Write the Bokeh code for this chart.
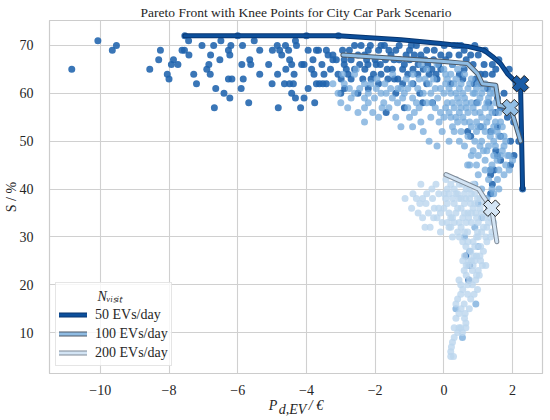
import numpy as np
from bokeh.plotting import figure
from bokeh.models import Range1d, FixedTicker, Legend, LegendItem
from bokeh.embed import file_html
from bokeh.resources import INLINE

FONT = "Liberation Serif"
NB = "\u00a0"

# ---------------- data ----------------
title_text = "Pareto Front with Knee Points for City Car Park Scenario"
series_labels = ["50 EVs/day", "100 EVs/day", "200 EVs/day"]
legend_title = "N\u1d65\u1d62\u209b\u1d62\u209c"
y_label = "S / %"
x_label_main = "P"
x_label_sub = "d,EV"
x_label_unit = "/ \u20ac"
x_ticks = [-10, -8, -6, -4, -2, 0, 2]
y_ticks = [10, 20, 30, 40, 50, 60, 70]

s50 = [
    (-10.83, 65), (-10.07, 71), (-9.65, 69), (-9.53, 70), (-8.56, 65), (-8.25, 69), (-8.05, 64),
    (-8.00, 63), (-7.93, 66), (-7.87, 67), (-7.74, 66), (-7.62, 69), (-7.55, 69), (-7.54, 72),
    (-7.43, 71), (-7.42, 68), (-7.28, 64), (-7.04, 70), (-6.90, 65), (-6.84, 66), (-6.80, 64),
    (-6.79, 68), (-6.70, 70), (-6.68, 57), (-6.64, 61), (-6.49, 71), (-6.52, 67), (-6.40, 60),
    (-6.27, 69), (-6.27, 63), (-6.23, 68), (-6.23, 59), (-6.20, 70), (-6.17, 63), (-6.00, 72),
    (-5.88, 66), (-5.86, 70), (-5.84, 63), (-5.68, 58), (-5.65, 67), (-5.62, 66), (-5.52, 71),
    (-5.36, 69), (-5.36, 64), (-4.99, 69), (-4.85, 70), (-4.84, 64), (-4.82, 57), (-4.78, 69),
    (-4.72, 68), (-4.64, 62), (-4.61, 70), (-4.52, 69), (-4.49, 67), (-4.49, 62), (-4.43, 66),
    (-4.43, 60), (-4.38, 62), (-4.36, 64), (-4.32, 71), (-4.32, 59), (-4.29, 70), (-4.17, 57),
    (-4.14, 66), (-4.07, 66), (-4.07, 59), (-4.00, 72), (-3.95, 69), (-3.95, 61), (-3.81, 67),
    (-3.78, 64), (-3.76, 58), (-3.71, 69), (-3.71, 62), (-3.65, 69), (-3.62, 62), (-3.52, 62),
    (-3.49, 64), (-3.42, 69), (-3.42, 62), (-3.37, 68), (-3.23, 68), (-3.23, 67), (-3.13, 67),
    (-3.07, 72), (-3.08, 64), (-2.99, 63), (-2.90, 67), (-2.90, 66), (-2.89, 61), (-2.84, 65),
    (-2.79, 64), (-2.70, 67), (-2.70, 63), (-2.60, 70), (-2.60, 65), (-2.50, 68), (-2.50, 60),
    (-2.41, 70), (-2.36, 63), (-2.31, 68), (-2.30, 65), (-2.21, 66), (-2.20, 69), (-2.14, 70),
    (-2.12, 63), (-2.00, 67), (-1.97, 66), (-1.90, 69), (-1.90, 62), (-1.83, 70), (-1.83, 64),
    (-1.73, 70), (-1.70, 67), (-1.68, 56), (-1.63, 63), (-1.60, 69), (-1.54, 68), (-1.50, 65),
    (-1.44, 63), (-1.34, 63), (-1.30, 70), (-1.30, 67), (-1.20, 65), (-1.20, 62), (-1.15, 66),
    (-1.15, 57), (-1.05, 64), (-1.00, 69), (-1.00, 67), (-0.90, 65), (-0.90, 62), (-0.86, 68),
    (-0.80, 70), (-0.76, 64), (-0.70, 67), (-0.67, 68), (-0.62, 58), (-0.60, 65), (-0.50, 69),
    (-0.50, 62), (-0.47, 66), (-0.43, 64), (-0.33, 58), (-0.30, 67), (-0.28, 69), (-0.23, 64),
    (-0.20, 63), (-0.09, 68), (-0.09, 65), (0.01, 70), (0.15, 68), (0.30, 70), (0.40, 70),
    (0.44, 68), (0.59, 69), (0.59, 65), (0.78, 68), (0.88, 62), (0.93, 63), (1.07, 64),
    (1.07, 62), (1.07, 53), (1.17, 66), (1.20, 64), (1.27, 61), (1.36, 52), (1.41, 66),
    (1.41, 64), (1.51, 65), (1.56, 59), (1.56, 53), (1.65, 57), (1.65, 51), (1.85, 55),
    (1.94, 50), (2.03, 54), (2.18, 50), (0.69, 52), (0.78, 51), (1.51, 48), (1.56, 47),
    (1.46, 44), (1.36, 43), (2.04, 47), (1.94, 45), (1.36, 44), (1.65, 46), (1.41, 41),
    (1.36, 39), (2.29, 40), (0.64, 26), (0.75, 24), (0.72, 21), (0.50, 70), (0.90, 70),
    (1.20, 69), (1.60, 67), (1.90, 65), (2.10, 62),
    (-2.95, 69), (-2.75, 69), (-2.45, 66), (-2.25, 67), (-2.05, 64), (-1.85, 66), (-1.65, 65),
    (-1.45, 67), (-1.40, 69), (-1.10, 68), (-0.95, 70), (-0.75, 66), (-0.55, 67), (-0.35, 65),
    (-0.15, 66), (0.05, 67), (0.25, 66), (0.45, 64), (0.65, 67), (0.85, 66), (1.00, 68),
    (0.20, 62), (0.55, 63), (-0.70, 60), (-1.40, 60), (-2.20, 61), (-3.30, 65), (-3.55, 66),
    (-3.85, 65), (-5.10, 66), (-5.00, 62), (-5.90, 61), (-7.20, 62), (-8.30, 67), (-4.60, 65),
    (-3.00, 60), (1.30, 58), (1.75, 60), (1.50, 56), (0.95, 58),
]

s100 = [
    (-3.23, 62), (-3.08, 60), (-2.90, 62), (-2.75, 61), (-2.60, 60), (-3.00, 58), (-2.80, 57),
    (-2.55, 65), (-2.60, 64), (-2.50, 56), (-2.31, 62), (-2.31, 59), (-2.31, 57), (-2.31, 54),
    (-2.12, 62), (-2.07, 56), (-2.02, 59), (-1.97, 61), (-1.90, 55), (-1.83, 60), (-1.72, 62),
    (-1.68, 60), (-1.60, 57), (-1.50, 59), (-1.49, 64), (-1.40, 55), (-1.34, 61), (-1.25, 61),
    (-1.25, 53), (-1.20, 59), (-1.10, 63), (-1.05, 61), (-1.05, 57), (-0.91, 59), (-0.91, 53),
    (-0.90, 64), (-0.86, 56), (-0.76, 61), (-0.72, 63), (-0.72, 57), (-0.67, 66), (-0.67, 54),
    (-0.60, 60), (-0.50, 65), (-0.50, 58), (-0.43, 62), (-0.43, 50), (-0.38, 60), (-0.38, 55),
    (-0.30, 63), (-0.25, 57), (-0.20, 66), (-0.18, 59), (-0.14, 54), (-0.10, 61), (-0.10, 56),
    (0.00, 65), (0.20, 64), (0.40, 65), (0.60, 64), (0.80, 63), (1.00, 62), (1.20, 62), (1.40, 61),
    (0.10, 63), (0.30, 62), (0.50, 62), (0.70, 61), (0.90, 60), (1.10, 60), (1.30, 59), (1.50, 58),
    (0.00, 60), (0.20, 60), (0.40, 59), (0.60, 59), (0.80, 58), (1.00, 58), (1.20, 57), (1.40, 56),
    (1.60, 56), (0.10, 58), (0.30, 57), (0.50, 57), (0.70, 56), (0.90, 56), (1.10, 55), (1.30, 55),
    (1.50, 54), (1.70, 53), (0.00, 55), (0.20, 55), (0.40, 54), (0.60, 54), (0.80, 53), (1.00, 53),
    (1.20, 52), (1.40, 52), (1.60, 51), (1.80, 50), (0.30, 52), (0.50, 52), (0.70, 51), (0.90, 50),
    (1.10, 50), (1.30, 49), (1.50, 49), (1.70, 48), (1.90, 47), (0.15, 50), (0.60, 49), (1.00, 47),
    (1.20, 46), (1.40, 45), (1.60, 44), (1.80, 45), (2.00, 46), (0.75, 45), (1.00, 43), (1.30, 42),
    (1.56, 42), (1.85, 47), (1.10, 40), (1.25, 38), (1.45, 39), (0.69, 45), (0.90, 41), (0.60, 30),
    (0.90, 32), (1.10, 34), (0.75, 27), (1.00, 28), (0.35, 15), (0.93, 16), (0.54, 9),
    (0.25, 66), (0.55, 66), (0.05, 62), (0.35, 60), (0.65, 57), (0.95, 54), (1.25, 58), (1.35, 60),
    (0.45, 56), (0.85, 60), (1.15, 48), (1.45, 50), (1.75, 51), (0.25, 53), (-0.05, 52),
    (-1.80, 57), (-2.20, 58), (-1.00, 55), (-0.60, 52), (-0.20, 49),
    (-2.95, 64), (-2.70, 59), (-2.45, 61), (-2.20, 60), (-1.95, 63), (-1.75, 58), (-1.55, 61),
    (-1.35, 58), (-1.15, 60), (-0.95, 62), (-0.80, 58), (-0.55, 63), (-0.35, 58), (-0.25, 61),
    (0.05, 64), (0.15, 61), (0.35, 63), (0.45, 61), (0.55, 60), (0.75, 62), (0.95, 61), (1.05, 59),
    (1.15, 61), (1.35, 57), (1.45, 60), (0.05, 57), (0.25, 58), (0.45, 58), (0.65, 58), (0.85, 57),
    (1.05, 56), (1.25, 54), (1.45, 53), (1.65, 54), (0.15, 56), (0.35, 55), (0.55, 55), (0.75, 54),
    (0.95, 52), (1.15, 53), (1.35, 51), (1.55, 52), (1.75, 49), (1.65, 47), (1.45, 47), (1.25, 48),
    (1.05, 49), (0.85, 48), (0.45, 50), (1.35, 44), (1.55, 46), (1.75, 43), (1.90, 44), (1.20, 44),
    (0.95, 45), (0.80, 47), (1.40, 40), (1.60, 40), (1.30, 36), (1.00, 37),
]

s200 = [
    (-1.13, 38), (-0.94, 36), (-0.67, 41), (-0.62, 38), (-0.62, 34), (-0.52, 37), (-0.33, 38),
    (-0.28, 36), (-0.23, 41), (-0.80, 38), (-0.75, 35), (-0.45, 35), (-0.40, 32), (-0.15, 39),
    (-0.10, 35), (-0.05, 33), (0.01, 39), (0.06, 42), (0.10, 37), (0.15, 32), (0.20, 34),
    (0.20, 32), (0.25, 34), (0.30, 37), (0.30, 40), (0.35, 35), (0.40, 39), (0.44, 38),
    (0.45, 33), (0.50, 36), (0.55, 41), (0.55, 34), (0.60, 37), (0.64, 38), (0.64, 28),
    (0.69, 31), (0.70, 35), (0.72, 34), (0.75, 40), (0.78, 37), (0.78, 27), (0.80, 33),
    (0.85, 36), (0.87, 26), (0.90, 39), (0.93, 35), (0.95, 30), (0.98, 38), (0.98, 31),
    (1.00, 33), (1.05, 36), (1.07, 28), (1.07, 25), (1.10, 31), (1.17, 34), (1.20, 37),
    (1.22, 30), (1.25, 32), (1.27, 35), (1.30, 33), (1.35, 30), (1.40, 31), (1.45, 33),
    (0.00, 36), (-0.20, 34), (0.10, 40), (0.35, 42), (0.65, 40), (0.85, 41), (0.25, 30),
    (0.45, 30), (0.55, 29), (0.85, 29), (1.15, 27), (0.95, 26), (0.72, 25),
    (0.59, 23), (0.49, 20), (0.40, 17), (0.44, 14), (0.35, 13), (0.49, 11), (0.25, 8),
    (0.20, 6), (0.28, 5), (0.88, 18), (0.83, 20), (0.98, 19), (0.74, 15), (0.62, 14),
    (0.64, 11), (0.44, 21), (0.93, 21), (0.49, 18), (0.69, 18), (0.59, 16), (0.78, 17),
    (0.64, 12), (0.44, 11), (0.40, 10), (0.54, 10), (0.20, 5), (0.83, 23), (1.12, 24),
    (1.22, 24), (1.03, 22), (0.69, 20), (0.70, 24), (0.90, 25), (0.60, 26), (1.00, 23),
    (-0.90, 39), (-0.70, 37), (-0.50, 39), (-0.35, 40), (-0.30, 34), (-0.15, 36), (0.05, 38),
    (0.15, 35), (0.25, 38), (0.40, 36), (0.50, 38), (0.50, 32), (0.60, 35), (0.65, 33),
    (0.75, 38), (0.80, 35), (0.90, 37), (0.95, 34), (1.05, 38), (1.10, 35), (1.15, 32),
    (1.30, 36), (1.35, 34), (1.00, 30), (0.90, 28), (0.70, 29), (0.60, 31), (0.40, 31),
    (0.30, 33), (0.10, 33), (-0.10, 31), (-0.55, 32), (0.35, 39), (0.60, 39), (0.20, 41),
    (0.45, 41), (0.15, 39), (0.80, 39), (1.25, 29), (1.05, 26), (0.80, 25), (0.65, 22),
    (0.55, 19), (0.75, 21), (0.50, 15), (0.60, 13), (0.35, 16), (0.30, 11), (0.30, 9),
    (0.22, 7), (0.95, 22), (0.85, 24), (0.65, 24), (0.55, 25),
]

front50_x = [-7.54, -3.07, -1.25, -0.09, 0.69, 1.17, 1.41, 1.65, 1.85, 2.04, 2.23, 2.29]
front50_y = [72, 72, 71.2, 70.4, 69.8, 69, 67.7, 66.2, 64.1, 62.7, 62, 40]
front100_x = [-2.94, -0.09, 0.69, 0.98, 1.12, 1.51, 1.60, 1.94, 2.23]
front100_y = [68, 66.7, 66.2, 64.1, 62, 61.7, 57.5, 57, 50]
front200_x = [0.06, 1.01, 1.16, 1.39, 1.54]
front200_y = [43, 40, 38.3, 36, 29]

knee_x = [2.23, 1.94, 1.39]
knee_y = [62, 57, 36]

# ---------------- style ----------------
pt_colors = ["#1f63ad", "#74aadb", "#bcd6ee"]
pt_alpha = [0.88, 0.75, 0.8]
line_colors = ["#0c4f9b", "#8fbce3", "#d3e4f4"]
edge_colors = ["#083670", "#4d5966", "#7e8a97"]
knee_fill = ["#1a5ca6", "#92bfe6", "#d4e5f5"]
TXT = "#262626"

p = figure(width=550, height=420,
           x_range=Range1d(-11.478, 2.870), y_range=Range1d(1.458, 75.208),
           output_backend="svg", toolbar_location=None,
           min_border_left=47, min_border_right=8, min_border_top=20, min_border_bottom=46)

p.background_fill_color = "white"
p.border_fill_color = "white"
p.outline_line_color = "#cccccc"
p.outline_line_width = 1.2

# title (native)
p.title.text = title_text
p.title.align = "center"
p.title.text_font = FONT
p.title.text_font_size = "13.5px"
p.title.text_font_style = "normal"
p.title.text_color = TXT
p.title.standoff = 2

for ax in (p.xaxis, p.yaxis):
    ax.axis_line_color = "#cccccc"
    ax.major_tick_line_color = None
    ax.minor_tick_line_color = None
    ax.major_label_text_font = FONT
    ax.major_label_text_font_size = "14px"
    ax.major_label_text_color = TXT
    ax.axis_label_text_font = FONT
    ax.axis_label_text_font_size = "14px"
    ax.axis_label_text_color = TXT

p.xaxis.ticker = FixedTicker(ticks=x_ticks)
p.yaxis.ticker = FixedTicker(ticks=y_ticks)
p.xaxis.major_label_overrides = {t: ("\u2212%d" % -t if t < 0 else "%d" % t) for t in x_ticks}
p.xaxis.major_label_standoff = 5
p.yaxis.major_label_standoff = 10

# y label
p.yaxis.axis_label = y_label
p.yaxis.axis_label_text_font_style = "normal"
p.yaxis.axis_label_standoff = -2

# x label: P with subscript d,EV on a second, slightly lower line
line1 = x_label_main + NB * 8 + NB + x_label_unit
line2 = x_label_sub + NB * 2
p.xaxis.axis_label = line1 + "\n" + line2
p.xaxis.axis_label_text_font_style = "italic"
p.xaxis.axis_label_text_line_height = 0.3
p.xaxis.axis_label_standoff = 0

p.grid.grid_line_color = "#d0d0d0"
p.grid.grid_line_width = 1.1

series = [s50, s100, s200]
for pts, c, a in zip(series, pt_colors, pt_alpha):
    xs = [q[0] for q in pts]
    ys = [q[1] for q in pts]
    p.scatter(xs, ys, size=7, marker="circle", fill_color=c, fill_alpha=a, line_color=None)

fronts = [(front50_x, front50_y), (front100_x, front100_y), (front200_x, front200_y)]
items = []
for (fx, fy), lc, ec, lab in zip(fronts, line_colors, edge_colors, series_labels):
    o = p.line(fx, fy, line_color=ec, line_width=5.0, line_cap="round", line_join="round")
    l = p.line(fx, fy, line_color=lc, line_width=3.0, line_cap="round", line_join="round")
    items.append(LegendItem(label=lab, renderers=[o, l]))

p.scatter(knee_x, knee_y, marker="plus", angle=np.pi / 4, size=17,
          fill_color=knee_fill, line_color="#222222", line_width=1)

legend = Legend(items=items, location=(6, 7), title=NB * 11 + legend_title)
legend.title_text_font = FONT
legend.title_text_font_size = "14px"
legend.title_text_font_style = "italic"
legend.title_text_color = TXT
legend.title_standoff = 0
legend.padding = 3
legend.spacing = 0
legend.label_height = 19
legend.glyph_height = 19
legend.glyph_width = 28
legend.label_standoff = 8
legend.label_text_font = FONT
legend.label_text_font_size = "14px"
legend.label_text_color = TXT
legend.background_fill_color = "white"
legend.background_fill_alpha = 0.8
legend.border_line_color = "#cccccc"
legend.border_line_width = 1
p.add_layout(legend)

open("out.html", "w").write(file_html(p, INLINE))
